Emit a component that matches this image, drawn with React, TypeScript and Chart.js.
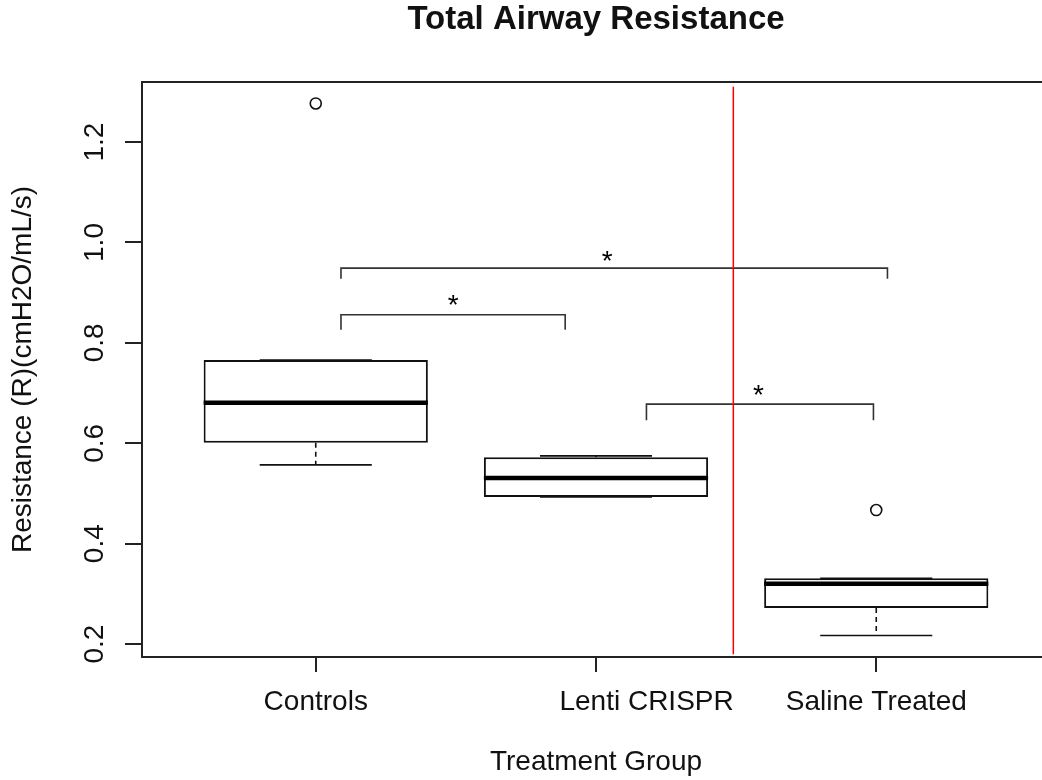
import React, { useEffect, useRef } from "react";
import { Chart, registerables } from "chart.js";

Chart.register(...registerables);

// ---------- data ----------
const categories = ["Controls", "Lenti CRISPR", "Saline Treated"];
// the reference draws the middle label shifted right of its tick
const tickLabels = ["Controls", "             Lenti CRISPR", "Saline Treated"];

const lowerWhisker = [0.557, 0.493, 0.217];
const q1 = [0.601, 0.493, 0.272];
const median = [0.681, 0.531, 0.32];
const q3 = [0.766, 0.572, 0.331];
const upperWhisker = [0.766, 0.575, 0.331];

const outlierGroup = [1, 3];
const outlierValue = [1.277, 0.467];

const yTicks = [0.2, 0.4, 0.6, 0.8, 1.0, 1.2];
const yTickLabels = ["0.2", "0.4", "0.6", "0.8", "1.0", "1.2"];

// significance brackets
const bracketStart = [1.09, 1.09, 2.18];
const bracketEnd = [1.89, 3.04, 2.99];
const bracketTop = [0.856, 0.949, 0.678];
const bracketFoot = [0.826, 0.928, 0.646];
const starX = [1.49, 2.04, 2.58];
const starY = [0.89, 0.977, 0.71];
const starText = ["*", "*", "*"];

// red divider
const dividerX = 2.49;
const dividerFrom = 0.18;
const dividerTo = 1.31;

const xRange = [0.38, 3.62];
const yRange = [0.1743, 1.3197];

const FONT = '"Liberation Sans", Arial, Helvetica, sans-serif';
const INK = "#111";

export default function App() {
  const ref = useRef<HTMLCanvasElement>(null);

  useEffect(() => {
    const canvas = ref.current;
    if (!canvas) return;

    const boxPlugin = {
      id: "boxExtras",
      beforeDatasetsDraw(chart: any) {
        const { ctx } = chart;
        const x = chart.scales.x;
        const y = chart.scales.y;
        ctx.save();
        ctx.strokeStyle = INK;
        ctx.lineWidth = 1.6;
        categories.forEach((_, i) => {
          const c = i + 1;
          const px = x.getPixelForValue(c);
          ctx.setLineDash([5, 4]);
          ctx.beginPath();
          ctx.moveTo(px, y.getPixelForValue(q1[i]));
          ctx.lineTo(px, y.getPixelForValue(lowerWhisker[i]));
          ctx.moveTo(px, y.getPixelForValue(q3[i]));
          ctx.lineTo(px, y.getPixelForValue(upperWhisker[i]));
          ctx.stroke();
          ctx.setLineDash([]);
          const l = x.getPixelForValue(c - 0.2);
          const r = x.getPixelForValue(c + 0.2);
          ctx.beginPath();
          [lowerWhisker[i], upperWhisker[i]].forEach((v) => {
            const py = y.getPixelForValue(v);
            ctx.moveTo(l, py);
            ctx.lineTo(r, py);
          });
          ctx.stroke();
        });
        ctx.restore();
      },
      afterDatasetsDraw(chart: any) {
        const { ctx, chartArea } = chart;
        const x = chart.scales.x;
        const y = chart.scales.y;
        ctx.save();
        // medians
        ctx.strokeStyle = "#000";
        ctx.lineWidth = 4.5;
        categories.forEach((_, i) => {
          const c = i + 1;
          const py = y.getPixelForValue(median[i]);
          ctx.beginPath();
          ctx.moveTo(x.getPixelForValue(c - 0.4), py);
          ctx.lineTo(x.getPixelForValue(c + 0.4), py);
          ctx.stroke();
        });
        // brackets
        ctx.strokeStyle = "#333";
        ctx.lineWidth = 1.6;
        bracketStart.forEach((s, i) => {
          const x1 = x.getPixelForValue(s);
          const x2 = x.getPixelForValue(bracketEnd[i]);
          const yt = y.getPixelForValue(bracketTop[i]);
          const yf = y.getPixelForValue(bracketFoot[i]);
          ctx.beginPath();
          ctx.moveTo(x1, yf);
          ctx.lineTo(x1, yt);
          ctx.lineTo(x2, yt);
          ctx.lineTo(x2, yf);
          ctx.stroke();
        });
        // stars
        ctx.fillStyle = "#000";
        ctx.font = `28px ${FONT}`;
        ctx.textAlign = "center";
        ctx.textBaseline = "alphabetic";
        starX.forEach((sx, i) => {
          ctx.fillText(starText[i], x.getPixelForValue(sx), y.getPixelForValue(starY[i]) + 16);
        });
        // red divider
        ctx.strokeStyle = "#ff0000";
        ctx.lineWidth = 1.5;
        ctx.beginPath();
        const dx = x.getPixelForValue(dividerX);
        ctx.moveTo(dx, y.getPixelForValue(dividerTo));
        ctx.lineTo(dx, y.getPixelForValue(dividerFrom));
        ctx.stroke();
        // frame
        ctx.strokeStyle = "#222";
        ctx.lineWidth = 2;
        ctx.strokeRect(
          chartArea.left,
          chartArea.top,
          chartArea.right - chartArea.left,
          chartArea.bottom - chartArea.top
        );
        // rotated y tick labels
        ctx.fillStyle = INK;
        ctx.font = `28px ${FONT}`;
        ctx.textAlign = "center";
        ctx.textBaseline = "alphabetic";
        yTicks.forEach((v, i) => {
          ctx.save();
          ctx.translate(chartArea.left - 39, y.getPixelForValue(v));
          ctx.rotate(-Math.PI / 2);
          ctx.fillText(yTickLabels[i], 0, 0);
          ctx.restore();
        });
        ctx.restore();
      },
    };

    const chart = new Chart(canvas, {
      type: "bar",
      data: {
        datasets: [
          {
            type: "bar",
            data: categories.map((_, i) => ({ x: i + 1, y: [q1[i], q3[i]] })) as any,
            backgroundColor: "#ffffff",
            borderColor: INK,
            borderWidth: 2,
            borderSkipped: false,
            categoryPercentage: 1,
            barPercentage: 0.8,
          } as any,
          {
            type: "scatter",
            data: outlierGroup.map((g, i) => ({ x: g, y: outlierValue[i] })),
            pointStyle: "circle",
            pointRadius: 5.5,
            pointBorderWidth: 1.6,
            pointBorderColor: INK,
            pointBackgroundColor: "#ffffff",
            showLine: false,
          } as any,
        ],
      },
      options: {
        responsive: false,
        animation: false,
        devicePixelRatio: 1,
        layout: { padding: { top: 0, right: 10, bottom: 0, left: 0 } },
        font: { family: FONT },
        plugins: {
          legend: { display: false },
          tooltip: { enabled: false },
          title: {
            display: true,
            text: "Total Airway Resistance",
            fullSize: false,
            color: INK,
            font: { family: FONT, size: 33, weight: "bold" },
            padding: { top: 0, bottom: 42.4 },
          },
        },
        scales: {
          x: {
            type: "linear",
            offset: false,
            min: xRange[0],
            max: xRange[1],
            afterBuildTicks: (s: any) => {
              s.ticks = categories.map((_, i) => ({ value: i + 1 }));
            },
            afterFit: (s: any) => {
              s.height = 123;
            },
            ticks: {
              callback: (_v: any, idx: number) => tickLabels[idx] ?? "",
              font: { family: FONT, size: 28 },
              color: INK,
              padding: 13.5,
              maxRotation: 0,
              minRotation: 0,
              autoSkip: false,
            },
            grid: {
              display: true,
              offset: false,
              drawOnChartArea: false,
              drawTicks: true,
              tickLength: 15,
              color: "#222",
              lineWidth: 2,
            },
            border: { display: false },
            title: {
              display: true,
              text: "Treatment Group",
              color: INK,
              font: { family: FONT, size: 28 },
              padding: { top: 0, bottom: 0.9 },
            },
          },
          y: {
            type: "linear",
            min: yRange[0],
            max: yRange[1],
            afterBuildTicks: (s: any) => {
              s.ticks = yTicks.map((v) => ({ value: v }));
            },
            afterFit: (s: any) => {
              s.width = 142;
            },
            ticks: { display: false },
            grid: {
              display: true,
              drawOnChartArea: false,
              drawTicks: true,
              tickLength: 17,
              color: "#222",
              lineWidth: 2,
            },
            border: { display: false },
            title: {
              display: true,
              text: "Resistance (R)(cmH2O/mL/s)",
              color: INK,
              font: { family: FONT, size: 28 },
              padding: { top: 6.5, bottom: 0 },
            },
          },
        },
      } as any,
      plugins: [boxPlugin],
    });

    return () => chart.destroy();
  }, []);

  return (
    <div
      style={{
        position: "fixed",
        left: 0,
        top: 0,
        width: 1042,
        height: 780,
        overflow: "hidden",
        background: "#ffffff",
      }}
    >
      <canvas ref={ref} width={1060} height={780} style={{ display: "block" }} />
    </div>
  );
}
